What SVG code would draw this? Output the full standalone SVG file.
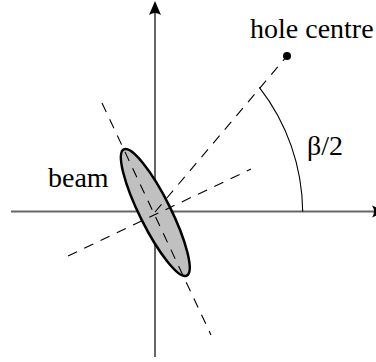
<svg xmlns="http://www.w3.org/2000/svg" width="376" height="362" viewBox="0 0 376 362">
<style>
.axis{stroke:#666;stroke-width:2;fill:none}
.dash{stroke:#000;stroke-width:1.1;stroke-dasharray:10 8;fill:none}
.lbl{font-family:'Liberation Serif','Times New Roman',serif;font-size:28px;fill:#000}
</style>
<defs>
<path id="ah" d="M0,0 L-14,-6 Q-10,0 -14,6 Z" fill="#000"/>
</defs>
<g id="axes">
<line class="axis" x1="11" y1="211.5" x2="376" y2="211.5"/>
<line class="axis" x1="155" y1="357" x2="155" y2="8"/>
<use href="#ah" transform="translate(155,1) rotate(-90)"/>
<use href="#ah" transform="translate(386,211.5)"/>
</g>
<g id="beam">
<ellipse cx="155.3" cy="212.5" rx="70.5" ry="15.5" transform="rotate(63.5 155.3 212.5)" fill="#c0c0c0" stroke="#000" stroke-width="2.5"/>
</g>
<g id="connectors">
<line class="dash" x1="102" y1="103" x2="211" y2="335"/>
<line class="dash" x1="155" y1="212" x2="287" y2="56"/>
<line class="dash" x1="68" y1="256" x2="251" y2="169"/>
<path d="M259.3,87.3 A205,205 0 0 1 302.7,211.5" fill="none" stroke="#000" stroke-width="1.1"/>
</g>
<g id="hole-centre">
<circle cx="287" cy="56" r="4" fill="#000"/>
<text class="lbl" x="250" y="38">hole centre</text>
</g>
<g id="beam-label">
<text class="lbl" x="48" y="187">beam</text>
</g>
<g id="angle-label">
<text class="lbl" x="307" y="155">β/2</text>
</g>
</svg>
